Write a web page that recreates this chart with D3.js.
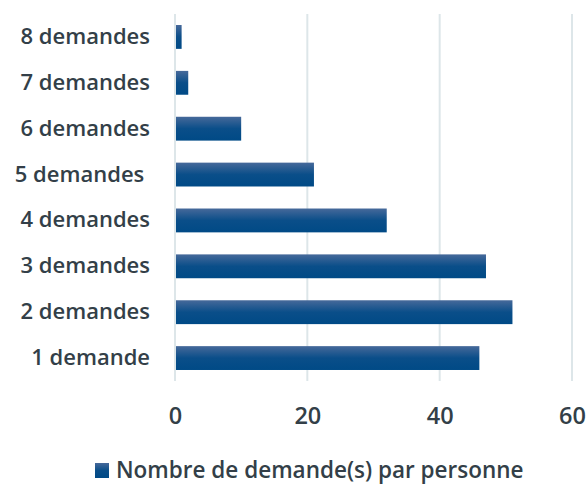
<!DOCTYPE html>
<html><head><meta charset="utf-8">
<script src="https://cdn.jsdelivr.net/npm/d3@7"></script>
<style>body{margin:0;background:#fff}svg{display:block}</style>
</head><body><svg id="c" width="588" height="484"></svg>
<script>
const categories = ["8 demandes","7 demandes","6 demandes","5 demandes ","4 demandes","3 demandes","2 demandes","1 demande"];
const values = [1,2,10,21,32,47,51,46];
const xTicks = [0,20,40,60];
const seriesName = "Nombre de demande(s) par personne";

const svg = d3.select("#c");
const m = {left:175, right:16, top:14, bottom:103};
const W = 588, H = 484;
const x = d3.scaleLinear().domain([0,60]).range([m.left, 572]);
const y = d3.scaleBand().domain(categories).range([m.top, H-m.bottom]).paddingInner(0.48).paddingOuter(0.24);
const font = "'Open Sans', 'Noto Sans', sans-serif";
const txt = "#333f48";
const fs = "22px";

const defs = svg.append("defs");
const g = defs.append("linearGradient").attr("id","bg").attr("x1",0).attr("y1",0).attr("x2",0).attr("y2",1);
g.append("stop").attr("offset","0%").attr("stop-color","#46699a");
g.append("stop").attr("offset","50%").attr("stop-color","#0a4e89");
g.append("stop").attr("offset","100%").attr("stop-color","#004a86");

// grid
svg.append("g").selectAll("line").data(xTicks).join("line")
  .attr("x1",d=>x(d)).attr("x2",d=>x(d)).attr("y1",m.top).attr("y2",H-m.bottom)
  .attr("stroke","#dde6e9").attr("stroke-width",2);

// bars
svg.append("g").selectAll("rect").data(values).join("rect")
  .attr("x",x(0)+1).attr("y",(d,i)=>y(categories[i]))
  .attr("width",d=>x(d)-x(0)-1).attr("height",y.bandwidth())
  .attr("fill","url(#bg)");

// y axis labels
const ya = svg.append("g").attr("transform",`translate(${m.left},0)`)
  .call(d3.axisLeft(y).tickSize(0).tickPadding(25));
ya.select(".domain").remove();
ya.selectAll("text").attr("fill",txt).style("font-family",font).style("font-size",fs).style("font-weight",600)
  .style("white-space","pre").attr("xml:space","preserve");

// x axis
const xa = svg.append("g").attr("transform",`translate(0,${H-m.bottom})`)
  .call(d3.axisBottom(x).tickValues(xTicks).tickSize(0).tickPadding(26).tickFormat(d3.format("d")));
xa.select(".domain").remove();
xa.selectAll("text").attr("fill",txt).style("font-family",font).style("font-size","23.5px").style("font-weight",600);

// legend
const lg = svg.append("g").attr("transform","translate(95,463)");
lg.append("rect").attr("width",14).attr("height",15).attr("fill","url(#bg)");
lg.append("text").attr("x",21).attr("y",15).attr("fill",txt)
  .style("font-family",font).style("font-size","22.5px").style("font-weight",600).text(seriesName);
</script></body></html>
